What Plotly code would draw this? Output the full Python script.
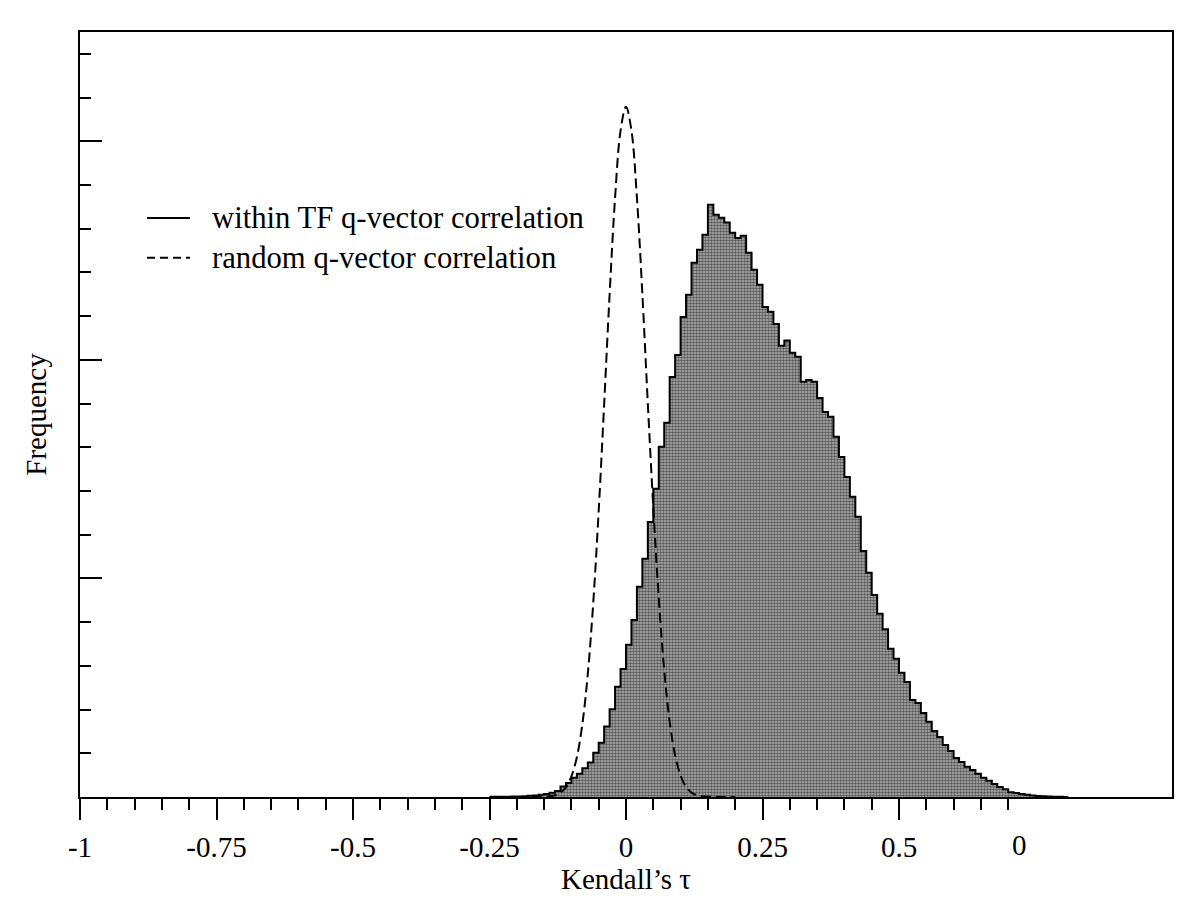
import numpy as np
import plotly.graph_objects as go

# ---------------- data ----------------
# histogram of within-TF q-vector correlation (bin width 0.01, first bin starts at -0.25)
hist_bin_start = -0.25
hist_bin_width = 0.01
hist_counts = [
    0.003, 0.003, 0.005, 0.007, 0.01, 0.014, 0.02, 0.028, 0.037, 0.05,      # -0.25 .. -0.16
    0.07, 0.10, 0.14, 0.24, 0.32, 0.44, 0.53, 0.66, 0.79, 1.01,              # -0.15 .. -0.06
    1.24, 1.61, 2.01, 2.52, 2.93, 3.48, 4.05, 4.81, 5.45, 6.29,              # -0.05 .. 0.04
    7.05, 8.01, 8.56, 9.61, 10.11, 10.98, 11.49, 12.22, 12.52, 12.86,        # 0.05 .. 0.14
    13.55, 13.32, 13.25, 13.14, 12.91, 12.79, 12.84, 12.45, 12.06, 11.72,    # 0.15 .. 0.24
    11.21, 11.10, 10.82, 10.32, 10.44, 10.16, 10.07, 9.50, 9.54, 9.50,       # 0.25 .. 0.34
    9.13, 8.81, 8.70, 8.24, 7.78, 7.32, 6.87, 6.41, 5.63, 5.13,              # 0.35 .. 0.44
    4.62, 4.19, 3.84, 3.39, 3.16, 2.84, 2.63, 2.22, 2.15, 1.92,              # 0.45 .. 0.54
    1.72, 1.51, 1.37, 1.19, 1.05, 0.89, 0.80, 0.69, 0.62, 0.53,              # 0.55 .. 0.64
    0.44, 0.37, 0.30, 0.23, 0.18, 0.11, 0.09, 0.07, 0.05, 0.034,             # 0.65 .. 0.74
    0.023, 0.016, 0.011, 0.007, 0.005, 0.002,                                # 0.75 .. 0.80
]

# random q-vector correlation curve (dashed)
random_tau = [-0.20, -0.19, -0.18, -0.17, -0.16, -0.15, -0.14, -0.13, -0.12, -0.11,
              -0.10, -0.09, -0.08, -0.07, -0.06, -0.05, -0.04, -0.03, -0.02, -0.01,
              0.00,
              0.01, 0.02, 0.03, 0.04, 0.05, 0.06, 0.07, 0.08, 0.09, 0.10,
              0.11, 0.12, 0.13, 0.14, 0.15, 0.16, 0.17, 0.18, 0.19, 0.20]
random_freq = [0.0, 0.0, 0.0, 0.0, 0.0, 0.01, 0.02, 0.04, 0.10, 0.22,
               0.47, 0.91, 1.66, 2.81, 4.44, 6.55, 8.99, 11.50, 13.71, 15.24,
               15.79,
               15.24, 13.71, 11.50, 8.99, 6.62, 4.55, 2.90, 1.72, 0.95, 0.49,
               0.23, 0.10, 0.04, 0.02, 0.01, 0.0, 0.0, 0.0, 0.0, 0.0]

# axis ticks / labels
x_major_vals = [-1.0, -0.75, -0.5, -0.25, 0.0, 0.25, 0.5]
x_major_text = ["-1", "-0.75", "-0.5", "-0.25", "0", "0.25", "0.5"]
x_extra_label_pos = 0.72
x_extra_label_text = "0"
y_major_vals = [0, 5, 10, 15]

legend_labels = ["within TF q-vector correlation", "random q-vector correlation"]

# ---------------- figure ----------------
n_bins = len(hist_counts)
edges = [round(hist_bin_start + i * hist_bin_width, 2) for i in range(n_bins + 1)]
step_y = hist_counts + [hist_counts[-1]]

fig = go.Figure()

fig.add_trace(go.Scatter(
    x=edges, y=step_y, mode="lines", line_shape="hv",
    line=dict(color="black", width=2),
    fill="tozeroy", fillcolor="rgba(0,0,0,0)",
    fillpattern=dict(shape=".", fgcolor="black", bgcolor="#b4b4b4", size=3, solidity=0.6),
    name=legend_labels[0], hoverinfo="skip",
))

fig.add_trace(go.Scatter(
    x=random_tau, y=random_freq, mode="lines", line_shape="spline",
    line=dict(color="black", width=2, dash="10px,5px"),
    name=legend_labels[1], hoverinfo="skip",
))

minor_x = [round(-1 + 0.05 * i, 2) for i in range(0, 35)]
minor_x = [v for v in minor_x if all(abs(v - m) > 1e-6 for m in x_major_vals)]
minor_y = [i for i in range(1, 18) if i % 5 != 0]

font_family = "Liberation Serif, Times New Roman, serif"

fig.update_layout(
    width=1200, height=911,
    margin=dict(l=72, r=36, t=24, b=122),
    plot_bgcolor="white", paper_bgcolor="white",
    font=dict(family=font_family, size=29, color="black"),
    showlegend=False,
    xaxis=dict(
        range=[-1, 1], tickmode="array", tickvals=x_major_vals, ticktext=x_major_text,
        ticks="outside", ticklen=21, tickwidth=2, tickcolor="black",
        ticklabelstandoff=2,
        showline=True, linewidth=2, linecolor="black", mirror=True,
        showgrid=False, zeroline=False,
        minor=dict(tickmode="array", tickvals=minor_x, ticks="outside", ticklen=11,
                   tickwidth=2, tickcolor="black", showgrid=False),
        title=dict(text="Kendall’s τ", font=dict(size=29), standoff=0),
    ),
    yaxis=dict(
        range=[0, 17.5], tickmode="array", tickvals=y_major_vals,
        ticks="inside", ticklen=22, tickwidth=2, tickcolor="black",
        showticklabels=False,
        showline=True, linewidth=2, linecolor="black", mirror=True,
        showgrid=False, zeroline=False,
        minor=dict(tickmode="array", tickvals=minor_y, ticks="inside", ticklen=11,
                   tickwidth=2, tickcolor="black", showgrid=False),
        title=dict(text="Frequency", font=dict(size=29), standoff=23),
    ),
)

# stray tick label seen on the original axis
fig.add_annotation(x=x_extra_label_pos, y=0, xref="x", yref="y", text=x_extra_label_text,
                   showarrow=False, yanchor="top", yshift=-30, font=dict(size=29))

# custom legend (line samples + text), in plot-area (paper) coordinates
legend_rows = [(0.757, "solid"), (0.705, "dash")]
for (ylab, dash), label in zip(legend_rows, legend_labels):
    fig.add_shape(type="line", xref="paper", yref="paper",
                  x0=0.0614, x1=0.1007, y0=ylab, y1=ylab,
                  line=dict(color="black", width=2, dash="solid" if dash == "solid" else "8px,5px"))
    fig.add_annotation(x=0.119, y=ylab, xref="paper", yref="paper", text=label,
                       showarrow=False, xanchor="left", yanchor="middle",
                       font=dict(size=30.7))

fig.write_html("out.html")
